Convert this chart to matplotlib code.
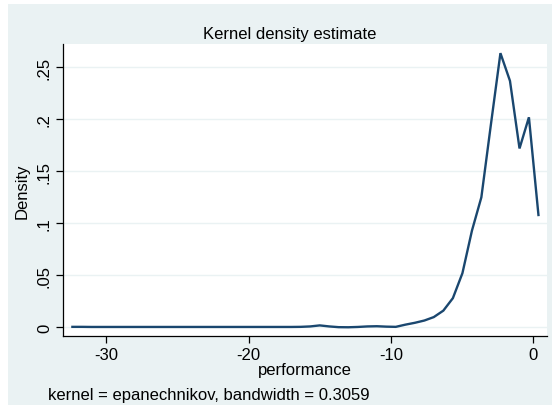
import matplotlib
matplotlib.use("Agg")
import matplotlib.pyplot as plt
from matplotlib.patches import Rectangle

# kdensity evaluation grid (50 points) and density estimates
perf = [-32.37, -31.70, -31.03, -30.37, -29.70, -29.03, -28.36, -27.69, -27.03, -26.36,
        -25.69, -25.02, -24.35, -23.69, -23.02, -22.35, -21.68, -21.01, -20.35, -19.68,
        -19.01, -18.34, -17.67, -17.01, -16.34, -15.67, -15.00, -14.33, -13.67, -13.00,
        -12.33, -11.66, -10.99, -10.33, -9.66, -8.99, -8.32, -7.65, -6.99, -6.32,
        -5.65, -4.98, -4.31, -3.65, -2.98, -2.31, -1.64, -0.97, -0.31, 0.36]
density = [0.0004, 0.0004, 0.0003, 0.0003, 0.0003, 0.0003, 0.0003, 0.0003, 0.0003, 0.0003,
           0.0003, 0.0003, 0.0003, 0.0003, 0.0003, 0.0003, 0.0003, 0.0003, 0.0003, 0.0003,
           0.0003, 0.0003, 0.0003, 0.0003, 0.0004, 0.0008, 0.0018, 0.0008, 0.0001, 0.0000,
           0.0003, 0.0008, 0.0010, 0.0006, 0.0004, 0.0025, 0.0043, 0.0065, 0.0098, 0.0160,
           0.0280, 0.0520, 0.0930, 0.1250, 0.1950, 0.2637, 0.2370, 0.1720, 0.2020, 0.1080]

xticks = [-30, -20, -10, 0]
yticks = [0, 0.05, 0.1, 0.15, 0.2, 0.25]
yticklabels = ["0", ".05", ".1", ".15", ".2", ".25"]

W, H = 552, 406
bg = "#EAF2F3"
navy = "#1A476F"
plt.rcParams["font.family"] = ["Liberation Sans", "DejaVu Sans"]

fig = plt.figure(figsize=(W / 100, H / 100), dpi=100, facecolor="white")
# light graph region with a thin white margin at top and left
fig.patches.append(Rectangle((8 / W, 0), 1, 1 - 5 / H, transform=fig.transFigure,
                             facecolor=bg, edgecolor="none", zorder=-10))

ax = fig.add_axes([63 / W, 1 - 337 / H, 484 / W, 292 / H])
ax.set_facecolor("white")
ax.plot(perf, density, color=navy, lw=1.7, solid_joinstyle="miter")

ax.set_xlim(-33.03, 0.96)
ax.set_ylim(-0.0084, 0.2725)
ax.set_xticks(xticks)
ax.set_xticklabels([str(t) for t in xticks])
ax.set_yticks(yticks)
ax.set_yticklabels(yticklabels, rotation=90, va="center")
ax.grid(axis="y", color=bg, lw=1.0)
ax.set_axisbelow(True)
for s in ["top", "right"]:
    ax.spines[s].set_visible(False)
for s in ["left", "bottom"]:
    ax.spines[s].set_color("black")
    ax.spines[s].set_linewidth(0.9)
ax.tick_params(direction="out", length=5, width=0.9, labelsize=12, pad=3)

ax.set_xlabel("performance", fontsize=12, labelpad=0)
ax.set_ylabel("Density", fontsize=12, labelpad=5)

fig.text(290 / W, 1 - 35 / H, "Kernel density estimate", ha="center", va="center", fontsize=12)
fig.text(48 / W, 1 - 396 / H, "kernel = epanechnikov, bandwidth = 0.3059",
         ha="left", va="center", fontsize=12)

fig.savefig("out.png", dpi=100, facecolor=fig.get_facecolor())
